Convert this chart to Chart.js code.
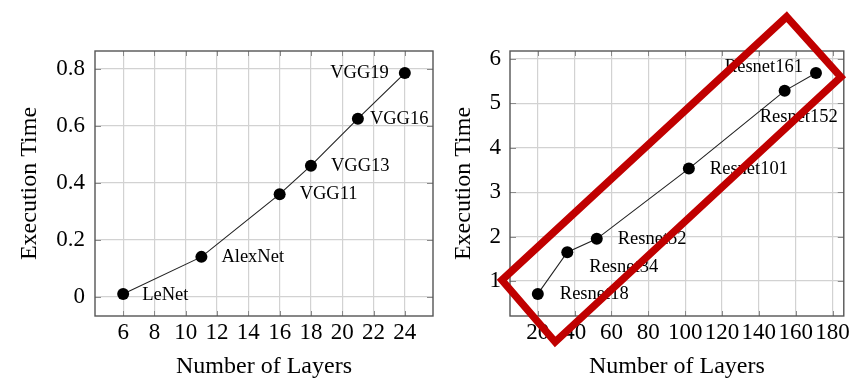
<!DOCTYPE html>
<html>
<head>
<meta charset="utf-8">
<script src="https://cdn.jsdelivr.net/npm/chart.js@4/dist/chart.umd.min.js"></script>
<style>
  html, body { margin: 0; padding: 0; background: #fff; }
  #wrap { position: relative; width: 853px; height: 379px; overflow: hidden; }
  canvas { position: absolute; top: 0; }
  #left { left: 0; }
  #right { left: 440px; }
</style>
</head>
<body>
<div id="wrap">
  <canvas id="left" width="440" height="379"></canvas>
  <canvas id="right" width="413" height="379"></canvas>
</div>
<script>
// left panel: classic nets
const leftLayers = [6, 11, 16, 18, 21, 24];
const leftTimes = [0.01, 0.14, 0.36, 0.46, 0.625, 0.785];
const leftNames = ['LeNet', 'AlexNet', 'VGG11', 'VGG13', 'VGG16', 'VGG19'];
const leftXTicks = [6, 8, 10, 12, 14, 16, 18, 20, 22, 24];
const leftYTicks = [0, 0.2, 0.4, 0.6, 0.8];

// right panel: resnets
const rightLayers = [20, 36, 52, 102, 154, 171];
const rightTimes = [0.71, 1.65, 1.95, 3.53, 5.28, 5.68];
const rightNames = ['Resnet18', 'Resnet34', 'Resnet52', 'Resnet101', 'Resnet152', 'Resnet161'];
const rightXTicks = [20, 40, 60, 80, 100, 120, 140, 160, 180];
const rightYTicks = [1, 2, 3, 4, 5, 6];

// red highlight box corners, in data units of the right panel
const boxX = [155.1, 184.5, 29.4, 0.5];
const boxY = [6.95, 5.59, -0.37, 1.02];

// label placement (px offset from the point, text align)
const leftLabelPos = [[19, 1, 'left'], [20, 0, 'left'], [20, 0, 'left'], [20, 0, 'left'], [12, 0, 'left'], [-16, 0, 'right']];
const rightLabelPos = [[22, 0, 'left'], [22, 15, 'left'], [21, 0, 'left'], [21, 1, 'left'], [-25, 26, 'left'], [-13, -6, 'right']];

const SERIF = "'Liberation Serif', 'Times New Roman', serif";

Chart.defaults.font.family = SERIF;
Chart.defaults.color = '#000';

// pgfplots-style 10% enlargement of limits
function limits(vals) {
    const lo = Math.min(...vals), hi = Math.max(...vals);
    const pad = (hi - lo) * 0.1;
    return { min: lo - pad, max: hi + pad };
}

const framePlugin = {
    id: 'frame',
    beforeDatasetsDraw(chart) {
        const { ctx, chartArea: a, scales } = chart;
        ctx.save();
        // small inner tick marks on all sides
        ctx.strokeStyle = '#8a8a8a';
        ctx.lineWidth = 1;
        ctx.beginPath();
        scales.x.ticks.forEach(t => {
            const px = Math.round(scales.x.getPixelForValue(t.value)) + 0.5;
            ctx.moveTo(px, a.bottom); ctx.lineTo(px, a.bottom - 5);
            ctx.moveTo(px, a.top); ctx.lineTo(px, a.top + 5);
        });
        scales.y.ticks.forEach(t => {
            const py = Math.round(scales.y.getPixelForValue(t.value)) + 0.5;
            ctx.moveTo(a.left, py); ctx.lineTo(a.left + 6, py);
            ctx.moveTo(a.right, py); ctx.lineTo(a.right - 6, py);
        });
        ctx.stroke();
        ctx.strokeStyle = '#555';
        ctx.lineWidth = 1.4;
        ctx.strokeRect(a.left, a.top, a.right - a.left, a.bottom - a.top);
        ctx.restore();
    }
};

const pointNamesPlugin = {
    id: 'pointNames',
    afterDatasetsDraw(chart, args, opts) {
        const { ctx } = chart;
        const meta = chart.getDatasetMeta(0);
        ctx.save();
        ctx.font = '18.5px ' + SERIF;
        ctx.fillStyle = '#000';
        ctx.textBaseline = 'middle';
        meta.data.forEach((pt, i) => {
            const [dx, dy, align] = opts.pos[i];
            ctx.textAlign = align;
            ctx.fillText(opts.names[i], pt.x + dx, pt.y + dy);
        });
        ctx.restore();
    }
};

const highlightPlugin = {
    id: 'highlight',
    afterDraw(chart, args, opts) {
        if (!opts.xs) return;
        const { ctx, scales } = chart;
        ctx.save();
        ctx.strokeStyle = '#c00000';
        ctx.lineWidth = 7.5;
        ctx.lineJoin = 'miter';
        ctx.beginPath();
        opts.xs.forEach((v, i) => {
            const px = scales.x.getPixelForValue(v);
            const py = scales.y.getPixelForValue(opts.ys[i]);
            if (i === 0) ctx.moveTo(px, py); else ctx.lineTo(px, py);
        });
        ctx.closePath();
        ctx.stroke();
        ctx.restore();
    }
};

function makeChart(el, cfg) {
    const xl = limits(cfg.xs), yl = limits(cfg.ys);
    return new Chart(el, {
        type: 'line',
        data: {
            datasets: [{
                data: cfg.xs.map((x, i) => ({ x: x, y: cfg.ys[i] })),
                borderColor: '#222',
                borderWidth: 1.1,
                pointRadius: 6,
                pointBackgroundColor: '#000',
                pointBorderWidth: 0,
                tension: 0,
                clip: false
            }]
        },
        options: {
            responsive: false,
            animation: false,
            devicePixelRatio: 1,
            layout: { padding: { top: 51, right: cfg.padRight, left: 0, bottom: 0 } },
            plugins: {
                legend: { display: false },
                tooltip: { enabled: false },
                pointNames: { names: cfg.names, pos: cfg.pos },
                highlight: { xs: cfg.boxX, ys: cfg.boxY }
            },
            scales: {
                x: {
                    type: 'linear',
                    min: xl.min,
                    max: xl.max,
                    afterBuildTicks: s => { s.ticks = cfg.xTicks.map(v => ({ value: v })); },
                    afterFit: s => { s.height = 63; },
                    grid: { color: '#d2d2d2', lineWidth: 1.2, drawTicks: false },
                    border: { display: false },
                    ticks: {
                        autoSkip: false, maxRotation: 0, padding: 3,
                        font: { size: 23 }, color: '#000',
                        callback: v => String(v)
                    },
                    title: {
                        display: true, text: 'Number of Layers',
                        font: { size: 24, lineHeight: 1 }, color: '#000',
                        padding: { top: 0, bottom: 0 }
                    }
                },
                y: {
                    type: 'linear',
                    min: yl.min,
                    max: yl.max,
                    afterBuildTicks: s => { s.ticks = cfg.yTicks.map(v => ({ value: v })); },
                    afterFit: s => { s.width = cfg.yWidth; },
                    grid: { color: '#d2d2d2', lineWidth: 1.2, drawTicks: false },
                    border: { display: false },
                    ticks: {
                        padding: cfg.tickPad,
                        font: { size: 23 }, color: '#000',
                        callback: v => String(v)
                    },
                    title: {
                        display: true, text: 'Execution Time',
                        font: { size: 24, lineHeight: 1 }, color: '#000',
                        padding: { top: cfg.titlePad, bottom: 0 }
                    }
                }
            }
        },
        plugins: [framePlugin, pointNamesPlugin, highlightPlugin]
    });
}

makeChart(document.getElementById('left'), {
    xs: leftLayers, ys: leftTimes, names: leftNames, pos: leftLabelPos,
    xTicks: leftXTicks, yTicks: leftYTicks,
    padRight: 7, yWidth: 95, tickPad: 10, titlePad: 18
});

makeChart(document.getElementById('right'), {
    xs: rightLayers, ys: rightTimes, names: rightNames, pos: rightLabelPos,
    xTicks: rightXTicks, yTicks: rightYTicks,
    padRight: 4, yWidth: 70, tickPad: 9, titlePad: 11.6,
    boxX: boxX, boxY: boxY
});
</script>
</body>
</html>
